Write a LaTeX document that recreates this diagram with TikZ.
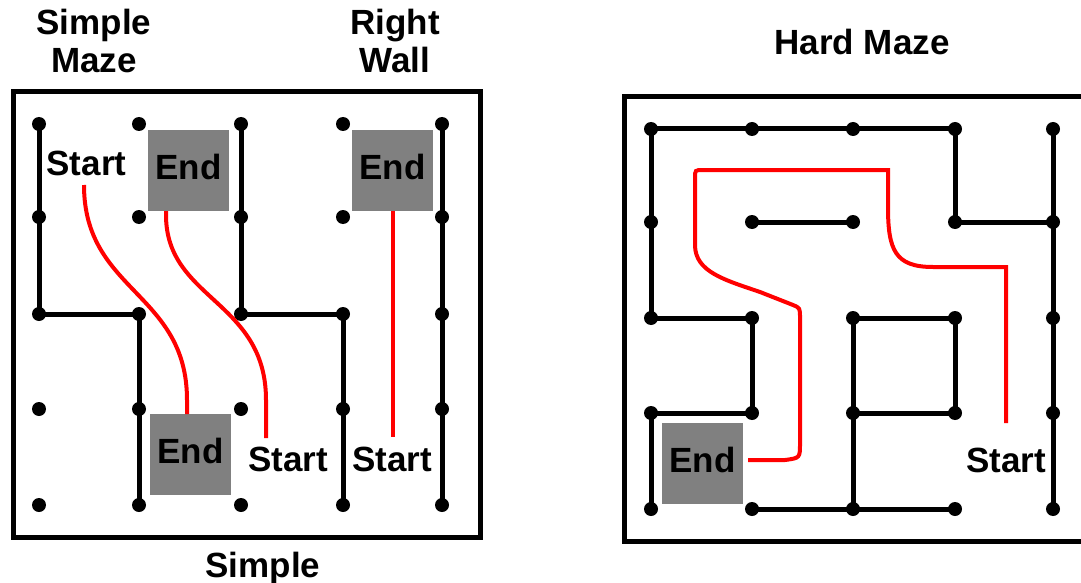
\documentclass[tikz,border=0pt]{standalone}
\usepackage{fontspec}
\setmainfont{Liberation Sans}
\definecolor{boxgray}{HTML}{808080}
\definecolor{pathred}{HTML}{FF0000}
\begin{document}
\begin{tikzpicture}[x=1pt,y=-1pt,
  wall/.style={line width=5pt, line cap=round},
  frameline/.style={line width=5pt},
  dot/.style={circle, fill=black, inner sep=0pt, minimum size=14pt},
  redpath/.style={pathred, line width=4pt},
  lbl/.style={font=\fontsize{35}{37}\selectfont\bfseries, inner sep=0pt, anchor=base},
  endbox/.style={fill=boxgray, minimum width=81pt, minimum height=81pt, inner sep=0pt, text depth=7pt, font=\fontsize{35}{37}\selectfont\bfseries}
]
\useasboundingbox (0,0) rectangle (1081,583);

% ---------- Simple maze (left) ----------
\draw[frameline] (13,92) rectangle (480,537);
\foreach \i/\x in {0/39,1/139,2/241,3/343,4/442}
  \foreach \j/\y in {0/124,1/217,2/314,3/409,4/505}
    \node[dot] (L\i\j) at (\x,\y) {};
\draw[wall] (L00.center) -- (L02.center) -- (L12.center) -- (L14.center);
\draw[wall] (L20.center) -- (L22.center) -- (L32.center) -- (L34.center);
\draw[wall] (L40.center) -- (L44.center);

\node[endbox] (endA) at (188.5,170.5) {End};
\node[endbox] (endB) at (392.5,170.5) {End};
\node[endbox] (endC) at (190.5,454.5) {End};

\node[lbl] (startA) at (86.5,175) {Start};
\node[lbl] (startB) at (288,471) {Start};
\node[lbl] (startC) at (392,471) {Start};

\coordinate (s1) at (84,185);
\coordinate (e1) at (187,414);
\coordinate (e2) at (166,211);
\coordinate (s2) at (266,438);
\coordinate (e3) at (393,211);
\coordinate (s3) at (393,437);
\draw[redpath] (s1) .. controls (84,292) and (187,292) .. (187,400) -- (e1);
\draw[redpath] (e2) -- (166,215) .. controls (166,300) and (266,300) .. (266,400) -- (s2);
\draw[redpath] (e3) -- (s3);

\node[lbl] (tSimple) at (94,35) {Simple};
\node[lbl] (tMaze) at (94,73) {Maze};
\node[lbl] (tRight) at (395,35) {Right};
\node[lbl] (tWall) at (395,73) {Wall};
\node[lbl] (bSimple) at (263,577) {Simple};

% ---------- Hard maze (right) ----------
\begin{scope}
\clip (0,0) rectangle (1081,583);
\draw[frameline] (1090,96.5) -- (624.5,96.5) -- (624.5,541.5) -- (1090,541.5);
\end{scope}
\foreach \i/\x in {0/651,1/752,2/853,3/955,4/1053}
  \foreach \j/\y in {0/129,1/222,2/318,3/413,4/509}
    \node[dot] (H\i\j) at (\x,\y) {};
\draw[wall] (H02.center) -- (H00.center) -- (H30.center) -- (H31.center) -- (H41.center);
\draw[wall] (H40.center) -- (H44.center);
\draw[wall] (H11.center) -- (H21.center);
\draw[wall] (H02.center) -- (H12.center) -- (H13.center) -- (H03.center) -- (H04.center);
\draw[wall] (H24.center) -- (H22.center) -- (H32.center) -- (H33.center) -- (H23.center);
\draw[wall] (H14.center) -- (H34.center);

\node[endbox] (endD) at (702.5,463.5) {End};
\node[lbl] (startD) at (1006,472) {Start};
\node[lbl] (tHard) at (862,55) {Hard Maze};

\coordinate (s4) at (1006,423);
\coordinate (e4) at (748,460);
\draw[redpath] (s4) -- (1006,267) -- (933,267)
  .. controls (895,267) and (888,250) .. (888,207) -- (888,170) -- (703,170)
  .. controls (695,170) .. (695,178) -- (695,245)
  .. controls (695,272) and (725,280) .. (760,292) -- (793,305)
  .. controls (800,308) .. (800,318) -- (800,443)
  .. controls (800,458) .. (785,460) -- (e4);
\end{tikzpicture}
\end{document}
